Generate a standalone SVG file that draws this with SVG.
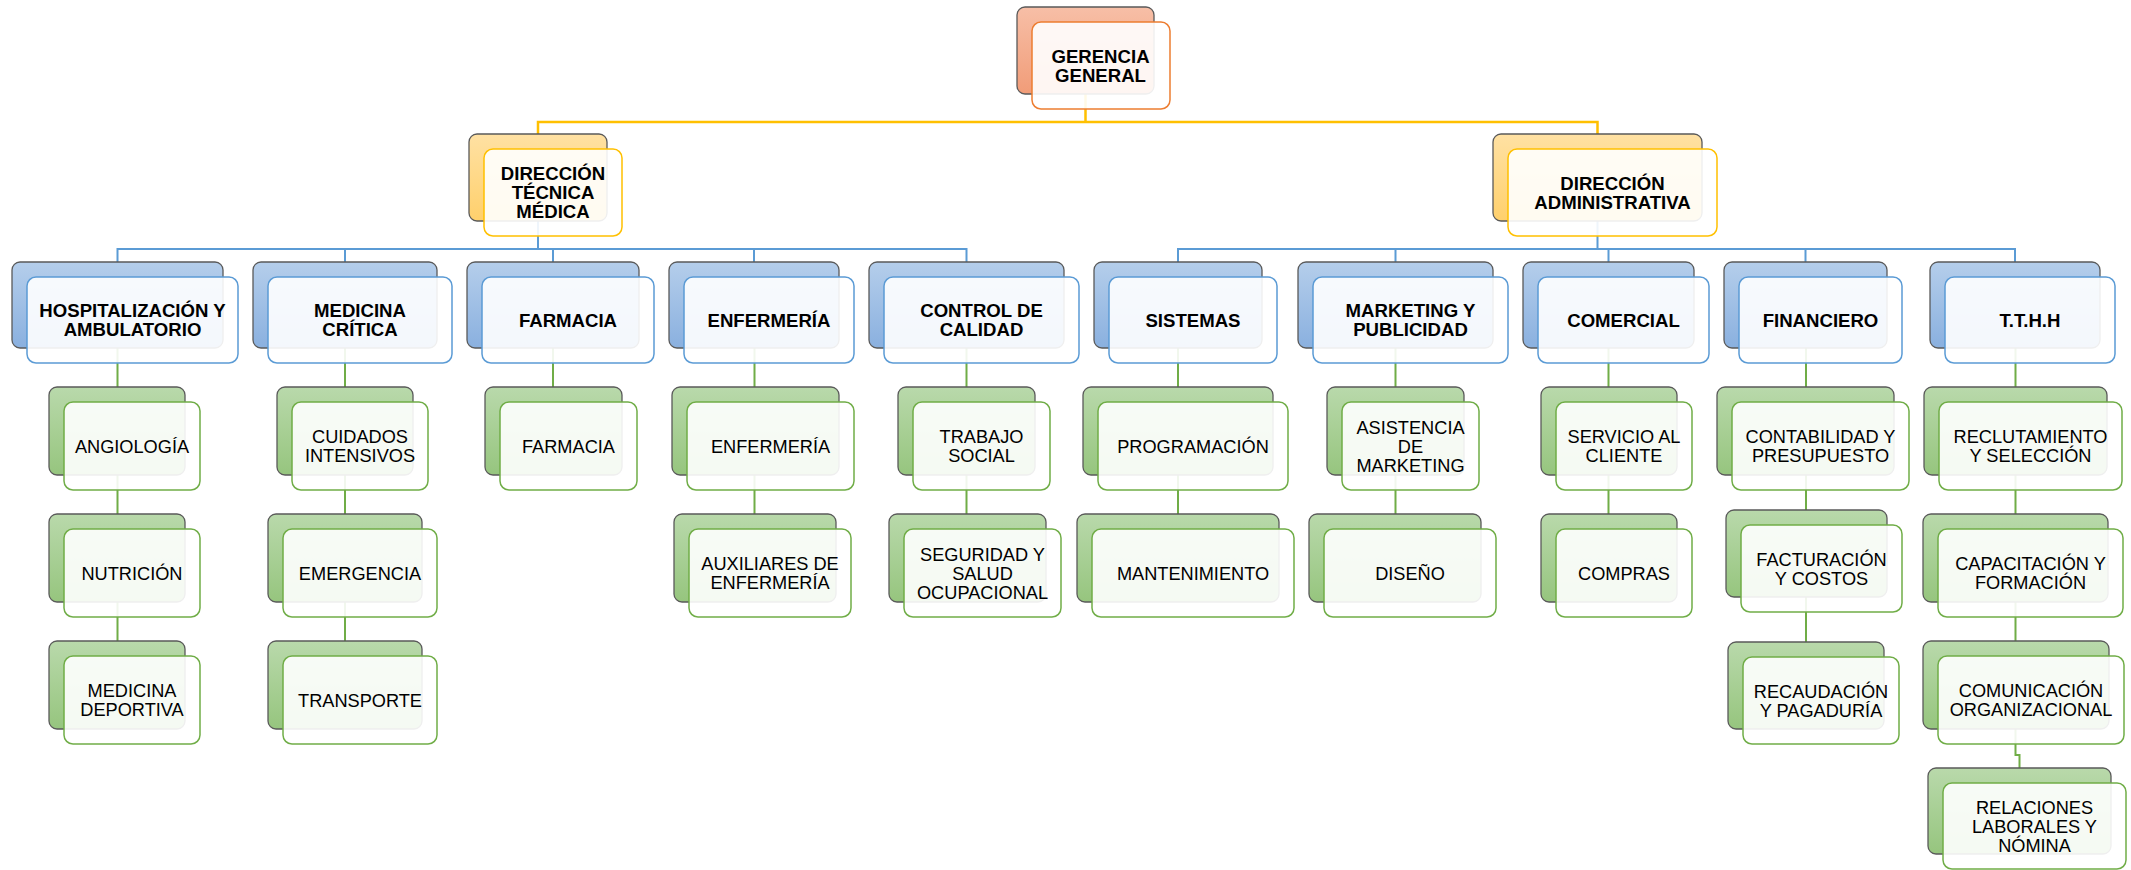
<svg xmlns="http://www.w3.org/2000/svg" width="2131" height="870" viewBox="0 0 2131 870">
<defs>
<linearGradient id="gO" x1="0" y1="0" x2="0" y2="1"><stop offset="0" stop-color="#F7BFA7"/><stop offset="1" stop-color="#F19C78"/></linearGradient>
<linearGradient id="gY" x1="0" y1="0" x2="0" y2="1"><stop offset="0" stop-color="#FFE1A3"/><stop offset="1" stop-color="#FFD06C"/></linearGradient>
<linearGradient id="gB" x1="0" y1="0" x2="0" y2="1"><stop offset="0" stop-color="#B5CEEB"/><stop offset="1" stop-color="#8AB0DF"/></linearGradient>
<linearGradient id="gG" x1="0" y1="0" x2="0" y2="1"><stop offset="0" stop-color="#B9D9AB"/><stop offset="1" stop-color="#96C57E"/></linearGradient>
</defs>
<style>
.bk{stroke:#5A5A5A;stroke-width:1.3;}
.bo{fill:url(#gO);} .by{fill:url(#gY);} .bb{fill:url(#gB);} .bg{fill:url(#gG);}
.fr{fill:#FFFFFF;fill-opacity:0.9;stroke-width:1.5;}
.fo{stroke:#ED7D31;} .fy{stroke:#FFC000;} .fb{stroke:#5B9BD5;} .fg{stroke:#70AD47;}
.cn{fill:none;stroke-width:2;}
.cy{stroke:#FFC000;stroke-width:2.5;} .cb{stroke:#5B9BD5;} .cg{stroke:#70AD47;}
text{font-family:"Liberation Sans",Arial,sans-serif;font-size:18.2px;fill:#000;text-anchor:middle;}
.b{font-weight:bold;font-size:18.6px;}
</style>
<g id="connectors">
<path class="cn cy" d="M538 134 V122 H1597.5 V134 M1085.5 94 V122"/>
<path class="cn cb" d="M538 221 V249 M117.5 262 V249 H966.5 V262 M345 249 V262 M553 249 V262 M754 249 V262"/>
<path class="cn cb" d="M1597.5 221 V249 M1178 262 V249 H2015 V262 M1395.5 249 V262 M1608.5 249 V262 M1805.5 249 V262"/>
<path class="cn cg" d="M117.5 348 V387 M117.5 475 V514 M117.5 602 V641
M345 348 V387 M345 475 V514 M345 602 V641
M553 348 V387
M754.5 348 V387 M754.5 475 V514
M966.5 348 V387 M966.5 475 V514
M1178 348 V387 M1178 475 V514
M1395.5 348 V387 M1395.5 475 V514
M1608.5 348 V387 M1608.5 475 V514
M1806 348 V387 M1806 475 V510 M1806 597 V642
M2015.5 348 V387 M2015.5 475 V514 M2015.5 602 V641 M2015.5 729 V755 H2019.5 V768"/>
</g>
<g id="gerencia">
<rect class="bk bo" x="1017" y="7" width="137" height="87" rx="8"/>
<rect class="fr fo" x="1032" y="22" width="138" height="87" rx="9"/>
<text class="b" x="1100.5" y="62.5">GERENCIA</text><text class="b" x="1100.5" y="81.5">GENERAL</text>
</g>
<g id="dtm">
<rect class="bk by" x="469" y="134" width="138" height="87" rx="8"/>
<rect class="fr fy" x="484" y="149" width="138" height="87" rx="9"/>
<text class="b" x="553" y="180">DIRECCIÓN</text><text class="b" x="553" y="199">TÉCNICA</text><text class="b" x="553" y="218">MÉDICA</text>
</g>
<g id="da">
<rect class="bk by" x="1493" y="134" width="209" height="87" rx="8"/>
<rect class="fr fy" x="1508" y="149" width="209" height="87" rx="9"/>
<text class="b" x="1612.5" y="189.5">DIRECCIÓN</text><text class="b" x="1612.5" y="208.5">ADMINISTRATIVA</text>
</g>
<g id="hosp">
<rect class="bk bb" x="12" y="262" width="211" height="86" rx="8"/>
<rect class="fr fb" x="27" y="277" width="211" height="86" rx="9"/>
<text class="b" x="132.5" y="317">HOSPITALIZACIÓN Y</text><text class="b" x="132.5" y="336">AMBULATORIO</text>
</g>
<g id="medcrit">
<rect class="bk bb" x="253" y="262" width="184" height="86" rx="8"/>
<rect class="fr fb" x="268" y="277" width="184" height="86" rx="9"/>
<text class="b" x="360" y="317">MEDICINA</text><text class="b" x="360" y="336">CRÍTICA</text>
</g>
<g id="farmacia">
<rect class="bk bb" x="467" y="262" width="172" height="86" rx="8"/>
<rect class="fr fb" x="482" y="277" width="172" height="86" rx="9"/>
<text class="b" x="568" y="326.5">FARMACIA</text>
</g>
<g id="enfermeria">
<rect class="bk bb" x="669" y="262" width="170" height="86" rx="8"/>
<rect class="fr fb" x="684" y="277" width="170" height="86" rx="9"/>
<text class="b" x="769" y="326.5">ENFERMERÍA</text>
</g>
<g id="control">
<rect class="bk bb" x="869" y="262" width="195" height="86" rx="8"/>
<rect class="fr fb" x="884" y="277" width="195" height="86" rx="9"/>
<text class="b" x="981.5" y="317">CONTROL DE</text><text class="b" x="981.5" y="336">CALIDAD</text>
</g>
<g id="sistemas">
<rect class="bk bb" x="1094" y="262" width="168" height="86" rx="8"/>
<rect class="fr fb" x="1109" y="277" width="168" height="86" rx="9"/>
<text class="b" x="1193" y="326.5">SISTEMAS</text>
</g>
<g id="marketing">
<rect class="bk bb" x="1298" y="262" width="195" height="86" rx="8"/>
<rect class="fr fb" x="1313" y="277" width="195" height="86" rx="9"/>
<text class="b" x="1410.5" y="317">MARKETING Y</text><text class="b" x="1410.5" y="336">PUBLICIDAD</text>
</g>
<g id="comercial">
<rect class="bk bb" x="1523" y="262" width="171" height="86" rx="8"/>
<rect class="fr fb" x="1538" y="277" width="171" height="86" rx="9"/>
<text class="b" x="1623.5" y="326.5">COMERCIAL</text>
</g>
<g id="financiero">
<rect class="bk bb" x="1724" y="262" width="163" height="86" rx="8"/>
<rect class="fr fb" x="1739" y="277" width="163" height="86" rx="9"/>
<text class="b" x="1820.5" y="326.5">FINANCIERO</text>
</g>
<g id="tthh">
<rect class="bk bb" x="1930" y="262" width="170" height="86" rx="8"/>
<rect class="fr fb" x="1945" y="277" width="170" height="86" rx="9"/>
<text class="b" x="2030" y="326.5">T.T.H.H</text>
</g>
<g id="angiologia">
<rect class="bk bg" x="49" y="387" width="136" height="88" rx="8"/>
<rect class="fr fg" x="64" y="402" width="136" height="88" rx="9"/>
<text x="132" y="452.5">ANGIOLOGÍA</text>
</g>
<g id="nutricion">
<rect class="bk bg" x="49" y="514" width="136" height="88" rx="8"/>
<rect class="fr fg" x="64" y="529" width="136" height="88" rx="9"/>
<text x="132" y="579.5">NUTRICIÓN</text>
</g>
<g id="medicina-deportiva">
<rect class="bk bg" x="49" y="641" width="136" height="88" rx="8"/>
<rect class="fr fg" x="64" y="656" width="136" height="88" rx="9"/>
<text x="132" y="697">MEDICINA</text><text x="132" y="716">DEPORTIVA</text>
</g>
<g id="cuidados">
<rect class="bk bg" x="277" y="387" width="136" height="88" rx="8"/>
<rect class="fr fg" x="292" y="402" width="136" height="88" rx="9"/>
<text x="360" y="443">CUIDADOS</text><text x="360" y="462">INTENSIVOS</text>
</g>
<g id="emergencia">
<rect class="bk bg" x="268" y="514" width="154" height="88" rx="8"/>
<rect class="fr fg" x="283" y="529" width="154" height="88" rx="9"/>
<text x="360" y="579.5">EMERGENCIA</text>
</g>
<g id="transporte">
<rect class="bk bg" x="268" y="641" width="154" height="88" rx="8"/>
<rect class="fr fg" x="283" y="656" width="154" height="88" rx="9"/>
<text x="360" y="706.5">TRANSPORTE</text>
</g>
<g id="farmacia-2">
<rect class="bk bg" x="485" y="387" width="137" height="88" rx="8"/>
<rect class="fr fg" x="500" y="402" width="137" height="88" rx="9"/>
<text x="568.5" y="452.5">FARMACIA</text>
</g>
<g id="enfermeria-2">
<rect class="bk bg" x="672" y="387" width="167" height="88" rx="8"/>
<rect class="fr fg" x="687" y="402" width="167" height="88" rx="9"/>
<text x="770.5" y="452.5">ENFERMERÍA</text>
</g>
<g id="auxiliares">
<rect class="bk bg" x="674" y="514" width="162" height="88" rx="8"/>
<rect class="fr fg" x="689" y="529" width="162" height="88" rx="9"/>
<text x="770" y="570">AUXILIARES DE</text><text x="770" y="589">ENFERMERÍA</text>
</g>
<g id="trabajo-social">
<rect class="bk bg" x="898" y="387" width="137" height="88" rx="8"/>
<rect class="fr fg" x="913" y="402" width="137" height="88" rx="9"/>
<text x="981.5" y="443">TRABAJO</text><text x="981.5" y="462">SOCIAL</text>
</g>
<g id="seguridad">
<rect class="bk bg" x="889" y="514" width="157" height="88" rx="8"/>
<rect class="fr fg" x="904" y="529" width="157" height="88" rx="9"/>
<text x="982.5" y="560.5">SEGURIDAD Y</text><text x="982.5" y="579.5">SALUD</text><text x="982.5" y="598.5">OCUPACIONAL</text>
</g>
<g id="programacion">
<rect class="bk bg" x="1083" y="387" width="190" height="88" rx="8"/>
<rect class="fr fg" x="1098" y="402" width="190" height="88" rx="9"/>
<text x="1193" y="452.5">PROGRAMACIÓN</text>
</g>
<g id="mantenimiento">
<rect class="bk bg" x="1077" y="514" width="202" height="88" rx="8"/>
<rect class="fr fg" x="1092" y="529" width="202" height="88" rx="9"/>
<text x="1193" y="579.5">MANTENIMIENTO</text>
</g>
<g id="asistencia">
<rect class="bk bg" x="1327" y="387" width="137" height="88" rx="8"/>
<rect class="fr fg" x="1342" y="402" width="137" height="88" rx="9"/>
<text x="1410.5" y="433.5">ASISTENCIA</text><text x="1410.5" y="452.5">DE</text><text x="1410.5" y="471.5">MARKETING</text>
</g>
<g id="diseno">
<rect class="bk bg" x="1309" y="514" width="172" height="88" rx="8"/>
<rect class="fr fg" x="1324" y="529" width="172" height="88" rx="9"/>
<text x="1410" y="579.5">DISEÑO</text>
</g>
<g id="servicio">
<rect class="bk bg" x="1541" y="387" width="136" height="88" rx="8"/>
<rect class="fr fg" x="1556" y="402" width="136" height="88" rx="9"/>
<text x="1624" y="443">SERVICIO AL</text><text x="1624" y="462">CLIENTE</text>
</g>
<g id="compras">
<rect class="bk bg" x="1541" y="514" width="136" height="88" rx="8"/>
<rect class="fr fg" x="1556" y="529" width="136" height="88" rx="9"/>
<text x="1624" y="579.5">COMPRAS</text>
</g>
<g id="contabilidad">
<rect class="bk bg" x="1717" y="387" width="177" height="88" rx="8"/>
<rect class="fr fg" x="1732" y="402" width="177" height="88" rx="9"/>
<text x="1820.5" y="443">CONTABILIDAD Y</text><text x="1820.5" y="462">PRESUPUESTO</text>
</g>
<g id="facturacion">
<rect class="bk bg" x="1726" y="510" width="161" height="87" rx="8"/>
<rect class="fr fg" x="1741" y="525" width="161" height="87" rx="9"/>
<text x="1821.5" y="566">FACTURACIÓN</text><text x="1821.5" y="585">Y COSTOS</text>
</g>
<g id="recaudacion">
<rect class="bk bg" x="1728" y="642" width="156" height="87" rx="8"/>
<rect class="fr fg" x="1743" y="657" width="156" height="87" rx="9"/>
<text x="1821" y="698">RECAUDACIÓN</text><text x="1821" y="717">Y PAGADURÍA</text>
</g>
<g id="reclutamiento">
<rect class="bk bg" x="1924" y="387" width="183" height="88" rx="8"/>
<rect class="fr fg" x="1939" y="402" width="183" height="88" rx="9"/>
<text x="2030.5" y="443">RECLUTAMIENTO</text><text x="2030.5" y="462">Y SELECCIÓN</text>
</g>
<g id="capacitacion">
<rect class="bk bg" x="1923" y="514" width="185" height="88" rx="8"/>
<rect class="fr fg" x="1938" y="529" width="185" height="88" rx="9"/>
<text x="2030.5" y="570">CAPACITACIÓN Y</text><text x="2030.5" y="589">FORMACIÓN</text>
</g>
<g id="comunicacion">
<rect class="bk bg" x="1923" y="641" width="186" height="88" rx="8"/>
<rect class="fr fg" x="1938" y="656" width="186" height="88" rx="9"/>
<text x="2031" y="697">COMUNICACIÓN</text><text x="2031" y="716">ORGANIZACIONAL</text>
</g>
<g id="relaciones">
<rect class="bk bg" x="1928" y="768" width="183" height="86" rx="8"/>
<rect class="fr fg" x="1943" y="783" width="183" height="86" rx="9"/>
<text x="2034.5" y="813.5">RELACIONES</text><text x="2034.5" y="832.5">LABORALES Y</text><text x="2034.5" y="851.5">NÓMINA</text>
</g>
</svg>
